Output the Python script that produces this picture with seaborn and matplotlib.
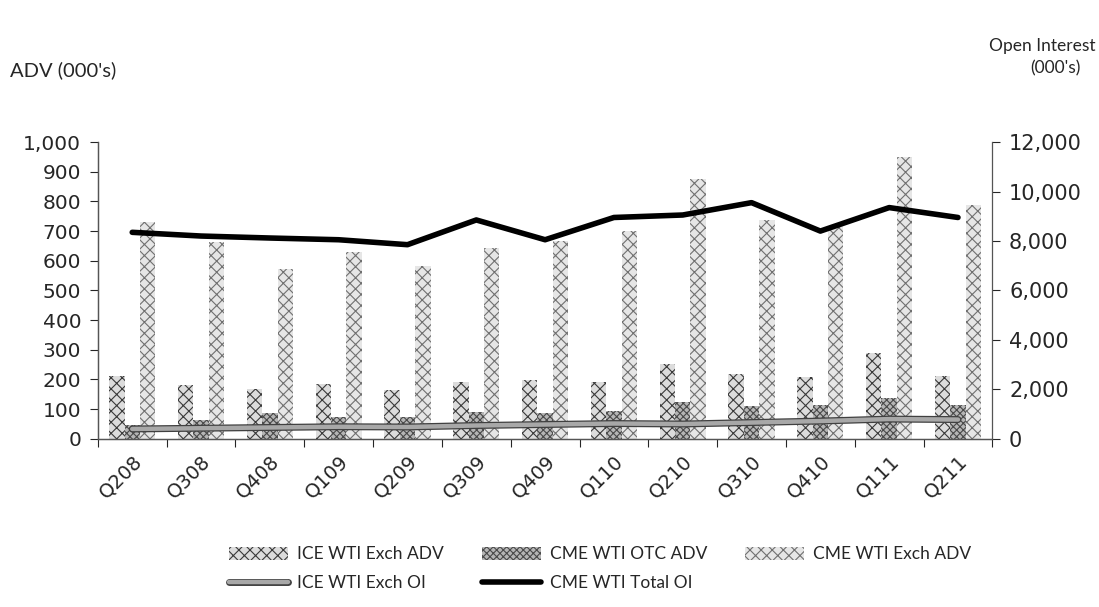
import matplotlib.pyplot as plt
import matplotlib.patheffects as pe
from matplotlib.patches import Patch
from matplotlib.lines import Line2D
from matplotlib.ticker import FuncFormatter
import seaborn as sns
import numpy as np
import pandas as pd

# Data
quarters = ["Q208", "Q308", "Q408", "Q109", "Q209", "Q309", "Q409",
            "Q110", "Q210", "Q310", "Q410", "Q111", "Q211"]
ice_exch_adv = [213, 180, 168, 185, 165, 192, 198, 190, 252, 220, 208, 288, 212]
cme_otc_adv = [47, 63, 87, 74, 74, 90, 87, 95, 124, 110, 114, 137, 114]
cme_exch_adv = [732, 663, 572, 630, 583, 642, 665, 700, 875, 738, 718, 950, 788]
ice_exch_oi = [400, 430, 460, 490, 480, 540, 580, 620, 600, 660, 720, 800, 780]
cme_total_oi = [8350, 8200, 8120, 8050, 7850, 8850, 8050, 8950, 9050, 9550, 8400, 9350, 8950]

series_names = ["ICE WTI Exch ADV", "CME WTI OTC ADV", "CME WTI Exch ADV"]
adv = pd.DataFrame({
    "quarter": quarters * 3,
    "series": np.repeat(series_names, len(quarters)),
    "value": ice_exch_adv + cme_otc_adv + cme_exch_adv,
})

# bar styling: face, hatch colour, hatch pattern
bar_styles = {
    "ICE WTI Exch ADV": ("#dcdcdc", "#3a3a3a", "xxx"),
    "CME WTI OTC ADV": ("#b5b5b5", "#4a4a4a", "xxxxx"),
    "CME WTI Exch ADV": ("#e6e6e6", "#707070", "xxx"),
}

sns.set_style("white")
plt.rcParams["font.family"] = ["DejaVu Sans"]
plt.rcParams["hatch.linewidth"] = 0.8

fig = plt.figure(figsize=(10.99, 6.07), dpi=100)
ax = fig.add_axes([0.089, 0.277, 0.814, 0.489])

sns.barplot(data=adv, x="quarter", y="value", hue="series", hue_order=series_names,
            palette={k: v[0] for k, v in bar_styles.items()}, width=0.67,
            linewidth=0, legend=False, ax=ax)

for name, container in zip(series_names, ax.containers):
    face, hcol, hatch = bar_styles[name]
    for bar in container:
        bar.set_facecolor(face)
        bar.set_edgecolor(hcol)
        bar.set_hatch(hatch)
        bar.set_linewidth(0)

ax.set_ylim(0, 1000)
ax.set_yticks(np.arange(0, 1001, 100))
ax.yaxis.set_major_formatter(FuncFormatter(lambda v, p: f"{int(v):,}"))
ax.set_xlim(-0.5, len(quarters) - 0.5)
ax.set_xlabel("")
ax.set_ylabel("")

# secondary axis: open interest lines
ax2 = ax.twinx()
sns.lineplot(x=quarters, y=ice_exch_oi, color="#a8a8a8", linewidth=3.2, ax=ax2,
             path_effects=[pe.Stroke(linewidth=5, foreground="#404040"), pe.Normal()])
sns.lineplot(x=quarters, y=cme_total_oi, color="black", linewidth=4, ax=ax2)
ax2.set_ylim(0, 12000)
ax2.set_yticks(np.arange(0, 12001, 2000))
ax2.yaxis.set_major_formatter(FuncFormatter(lambda v, p: f"{int(v):,}"))
ax2.set_xlim(-0.5, len(quarters) - 0.5)

# x ticks: labels at centres, tick marks at boundaries
ax.set_xticks(range(len(quarters)))
ax.set_xticklabels(quarters, rotation=45, ha="right", rotation_mode="anchor")
ax.set_xticks(np.arange(-0.5, len(quarters), 1), minor=True)
ax.tick_params(axis="x", which="major", length=0, labelsize=14, pad=9)
ax.tick_params(axis="x", which="minor", length=6, width=0.8, direction="out", bottom=True)
ax.tick_params(axis="y", left=True, length=6, width=0.8, direction="out", labelsize=14.5, pad=6)
ax2.tick_params(axis="y", right=True, length=6, width=0.8, direction="out", labelsize=15, pad=6)

for a in (ax, ax2):
    a.spines["top"].set_visible(False)
    for s in ("left", "right", "bottom"):
        a.spines[s].set_color("#555555")
        a.spines[s].set_linewidth(0.9)
ax.spines["right"].set_visible(False)

# axis titles
fig.text(0.009, 0.885, "ADV (000's)", fontsize=14.5, family="Lato", va="center")
fig.text(0.997, 0.925, "Open Interest", fontsize=12.5, family="Lato", ha="right", va="center")
fig.text(0.983, 0.888, "(000's)", fontsize=12.5, family="Lato", ha="right", va="center")

# legend, filled row-wise
h_ice = Patch(facecolor=bar_styles["ICE WTI Exch ADV"][0], edgecolor=bar_styles["ICE WTI Exch ADV"][1],
              hatch="xxx", linewidth=0, label="ICE WTI Exch ADV")
h_otc = Patch(facecolor=bar_styles["CME WTI OTC ADV"][0], edgecolor=bar_styles["CME WTI OTC ADV"][1],
              hatch="xxxxx", linewidth=0, label="CME WTI OTC ADV")
h_cme = Patch(facecolor=bar_styles["CME WTI Exch ADV"][0], edgecolor=bar_styles["CME WTI Exch ADV"][1],
              hatch="xxx", linewidth=0, label="CME WTI Exch ADV")
h_ice_oi = Line2D([], [], color="#a8a8a8", linewidth=3.2,
                  path_effects=[pe.Stroke(linewidth=5, foreground="#404040"), pe.Normal()],
                  label="ICE WTI Exch OI")
h_cme_oi = Line2D([], [], color="black", linewidth=4, label="CME WTI Total OI")
fig.legend(handles=[h_ice, h_ice_oi, h_otc, h_cme_oi, h_cme], ncol=3, frameon=False,
           loc="lower center", bbox_to_anchor=(0.546, 0.0),
           prop={"family": "Lato", "size": 12.5}, handlelength=3.4, handleheight=0.8,
           columnspacing=2.2, handletextpad=0.5, labelspacing=0.75)

fig.savefig("out.png", dpi=100)
